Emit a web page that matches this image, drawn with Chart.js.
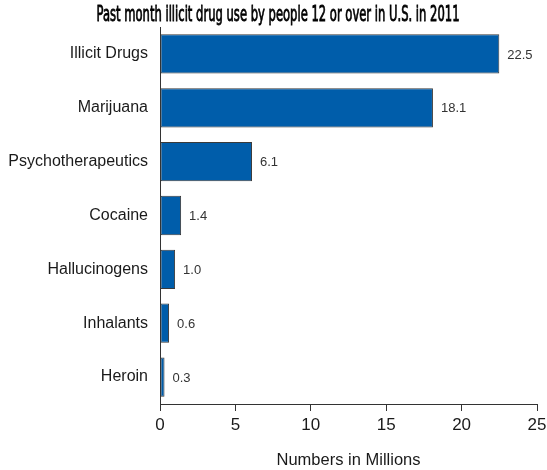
<!DOCTYPE html>
<html>
<head>
<meta charset="utf-8">
<script src="https://cdn.jsdelivr.net/npm/chart.js@4"></script>
<style>
  html, body { margin: 0; padding: 0; background: #fff; }
  #wrap { width: 547px; height: 470px; position: relative; }
</style>
</head>
<body>
<div id="wrap"><canvas id="drugChart" width="547" height="470"></canvas></div>
<script>
// Past month illicit drug use, people 12 or over, U.S. 2011 (millions)
const chartTitle = "Past month illicit drug use by people 12 or over in U.S. in 2011";
const categories = ["Illicit Drugs", "Marijuana", "Psychotherapeutics", "Cocaine", "Hallucinogens", "Inhalants", "Heroin"];
const users = [22.5, 18.1, 6.1, 1.4, 1.0, 0.6, 0.3];
const xTicks = [0, 5, 10, 15, 20, 25];
const xAxisTitle = "Numbers in Millions";

const barColor = "#005DAA";
const axisColor = "#333333";
const textColor = "#1a1a1a";

// narrow headline drawn on the canvas, squeezed to the width of the original
const titlePlugin = {
  id: "narrowTitle",
  afterDraw: function (chart) {
    const ctx = chart.ctx;
    ctx.save();
    ctx.font = "21px 'Liberation Sans Narrow', 'DejaVu Sans Condensed', sans-serif";
    ctx.fillStyle = "#000";
    ctx.strokeStyle = "#000";
    ctx.lineWidth = 0.8;
    ctx.textBaseline = "alphabetic";
    ctx.textAlign = "center";
    const w = ctx.measureText(chartTitle).width;
    const target = 363;
    ctx.translate(278, 20.5);
    ctx.scale(target / w, 1.03);
    ctx.fillText(chartTitle, 0, 0);
    ctx.strokeText(chartTitle, 0, 0); // a bit heavier, like the original
    ctx.restore();
  },
};

// value labels just past the end of each bar
const valueLabels = {
  id: "valueLabels",
  afterDatasetsDraw: function (chart) {
    const ctx = chart.ctx;
    const meta = chart.getDatasetMeta(0);
    ctx.save();
    ctx.font = "13px 'Liberation Sans', Arial, sans-serif";
    ctx.fillStyle = "#333";
    ctx.textBaseline = "middle";
    ctx.textAlign = "left";
    meta.data.forEach(function (bar, i) {
      ctx.fillText(users[i].toFixed(1), bar.x + 8, bar.y + 1);
    });
    ctx.restore();
  },
};

Chart.defaults.font.family = "'Liberation Sans', Arial, sans-serif";
Chart.defaults.color = textColor;

new Chart(document.getElementById("drugChart").getContext("2d"), {
  type: "bar",
  data: {
    labels: categories,
    datasets: [
      {
        data: users,
        backgroundColor: barColor,
        borderColor: "#3a3a3a",
        borderWidth: 1,
        borderSkipped: false,
        barPercentage: 0.73,
        categoryPercentage: 1,
      },
    ],
  },
  options: {
    indexAxis: "y",
    responsive: false,
    animation: false,
    layout: { padding: { top: 27, right: 0, left: 0, bottom: 0 } },
    plugins: {
      legend: { display: false },
      tooltip: { enabled: false },
      title: { display: false },
    },
    scales: {
      x: {
        min: 0,
        max: 25,
        afterBuildTicks: function (scale) {
          scale.ticks = xTicks.map((v) => ({ value: v }));
        },
        afterFit: function (scale) {
          scale.height = 66;
          scale.paddingRight = 10;
        },
        grid: {
          display: true,
          drawOnChartArea: false,
          drawTicks: true,
          tickLength: 7,
          color: axisColor,
        },
        border: { display: true, color: axisColor, width: 1 },
        ticks: {
          font: { size: 17 },
          color: textColor,
          padding: 4,
          maxRotation: 0,
        },
        title: {
          display: true,
          text: xAxisTitle,
          font: { size: 16.5 },
          color: textColor,
          padding: { top: 0, bottom: 0 },
        },
      },
      y: {
        afterFit: function (scale) {
          scale.width = 160;
        },
        grid: { display: false, drawTicks: false },
        border: { display: true, color: axisColor, width: 1 },
        ticks: {
          font: { size: 16 },
          color: textColor,
          padding: 12,
        },
      },
    },
  },
  plugins: [titlePlugin, valueLabels],
});
</script>
</body>
</html>
